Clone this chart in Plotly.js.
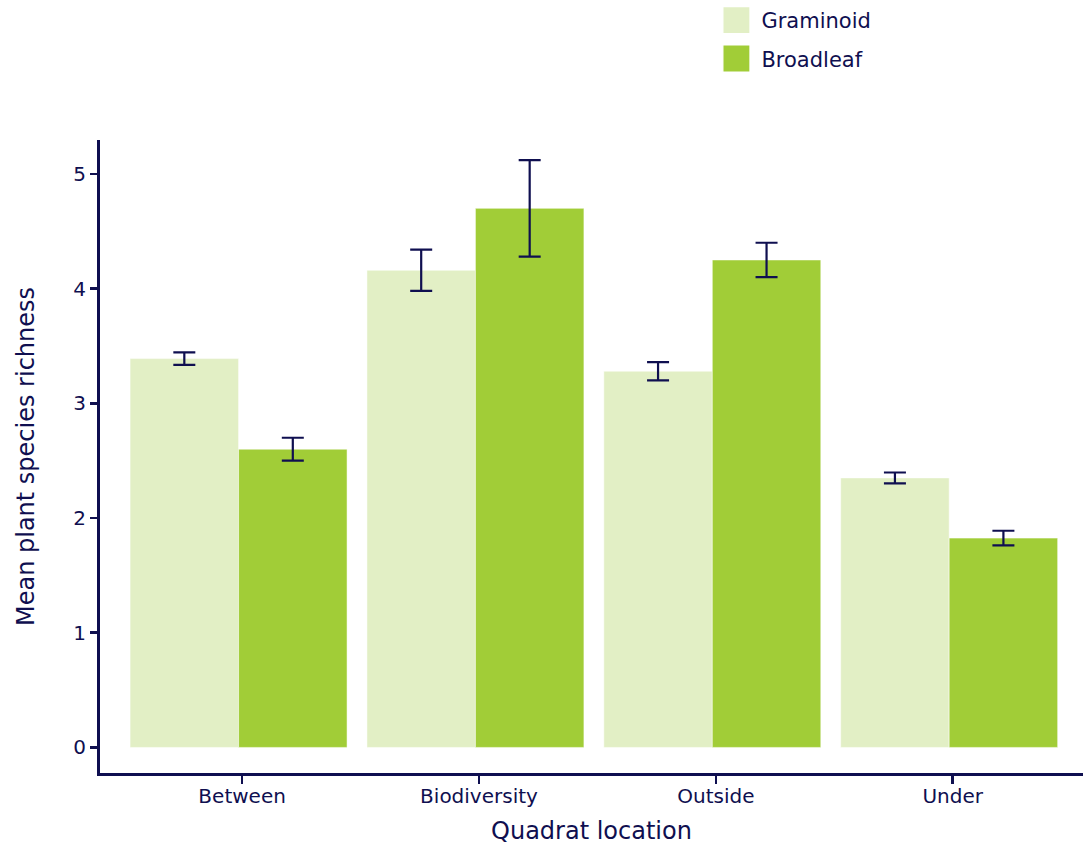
<!DOCTYPE html>
<html>
<head>
<meta charset="utf-8">
<script src="https://cdn.plot.ly/plotly-3.0.1.min.js"></script>
<style>html,body{margin:0;padding:0;background:#fff;}#chart{width:1083px;height:845px;}</style>
</head>
<body>
<div id="chart"></div>
<script>
const categories = ["Between", "Biodiversity", "Outside", "Under"];
const graminoid = [3.39, 4.16, 3.28, 2.35];
const graminoidErr = [0.055, 0.18, 0.08, 0.047];
const broadleaf = [2.60, 4.70, 4.25, 1.825];
const broadleafErr = [0.10, 0.42, 0.15, 0.064];

const navy = "#0f0f50";
const fontFam = "'DejaVu Sans', sans-serif";

const errStyle = (arr) => ({type: "data", array: arr, visible: true, color: navy, thickness: 2.2, width: 11});

const traces = [
  {type: "bar", name: "Graminoid", legendgroup: "g", x: categories, y: graminoid, error_y: errStyle(graminoidErr),
   width: 0.458, offset: -0.473,
   marker: {color: "#e2efc5", line: {color: "#ffffff", width: 0.5}}},
  {type: "bar", name: "Broadleaf", legendgroup: "b", x: categories, y: broadleaf, error_y: errStyle(broadleafErr),
   width: 0.458, offset: -0.015,
   marker: {color: "#a1cd37", line: {color: "#ffffff", width: 0.5}}}
];

const layout = {
  width: 1083, height: 845,
  paper_bgcolor: "#ffffff", plot_bgcolor: "#ffffff",
  margin: {l: 100, r: 0, t: 138, b: 72},
  barmode: "group", bargap: 0.083, bargroupgap: 0,
  font: {family: fontFam, color: navy, size: 20},
  showlegend: true,
  legend: {x: 0.622, xanchor: "left", y: 1.222, yanchor: "top", font: {size: 21, color: navy},
           bgcolor: "rgba(0,0,0,0)", itemwidth: 40, traceorder: "grouped", tracegroupgap: 8},
  xaxis: {
    range: [-0.6, 3.55], showline: true, linecolor: navy, linewidth: 3,
    ticks: "outside", tickcolor: navy, tickwidth: 2.5, ticklen: 8, ticklabelstandoff: -5,
    showgrid: false, zeroline: false, tickfont: {size: 20, color: navy},
    title: {text: "Quadrat location", font: {size: 24, color: navy}, standoff: 18}
  },
  yaxis: {
    range: [-0.223, 5.296], showline: true, linecolor: navy, linewidth: 3,
    ticks: "outside", tickcolor: navy, tickwidth: 2.5, ticklen: 7,
    showgrid: false, zeroline: false, tickvals: [0,1,2,3,4,5], tickfont: {size: 20, color: navy},
    title: {text: "Mean plant species richness", font: {size: 24, color: navy}, standoff: 32}
  }
};

Plotly.newPlot("chart", traces, layout, {displayModeBar: false, staticPlot: true}).then(function () {
  document.querySelectorAll(".legend .legendpoints path").forEach(function (p) {
    const t = p.getAttribute("transform") || "";
    p.setAttribute("transform", t + " scale(2.25)");
  });
});
</script>
</body>
</html>
